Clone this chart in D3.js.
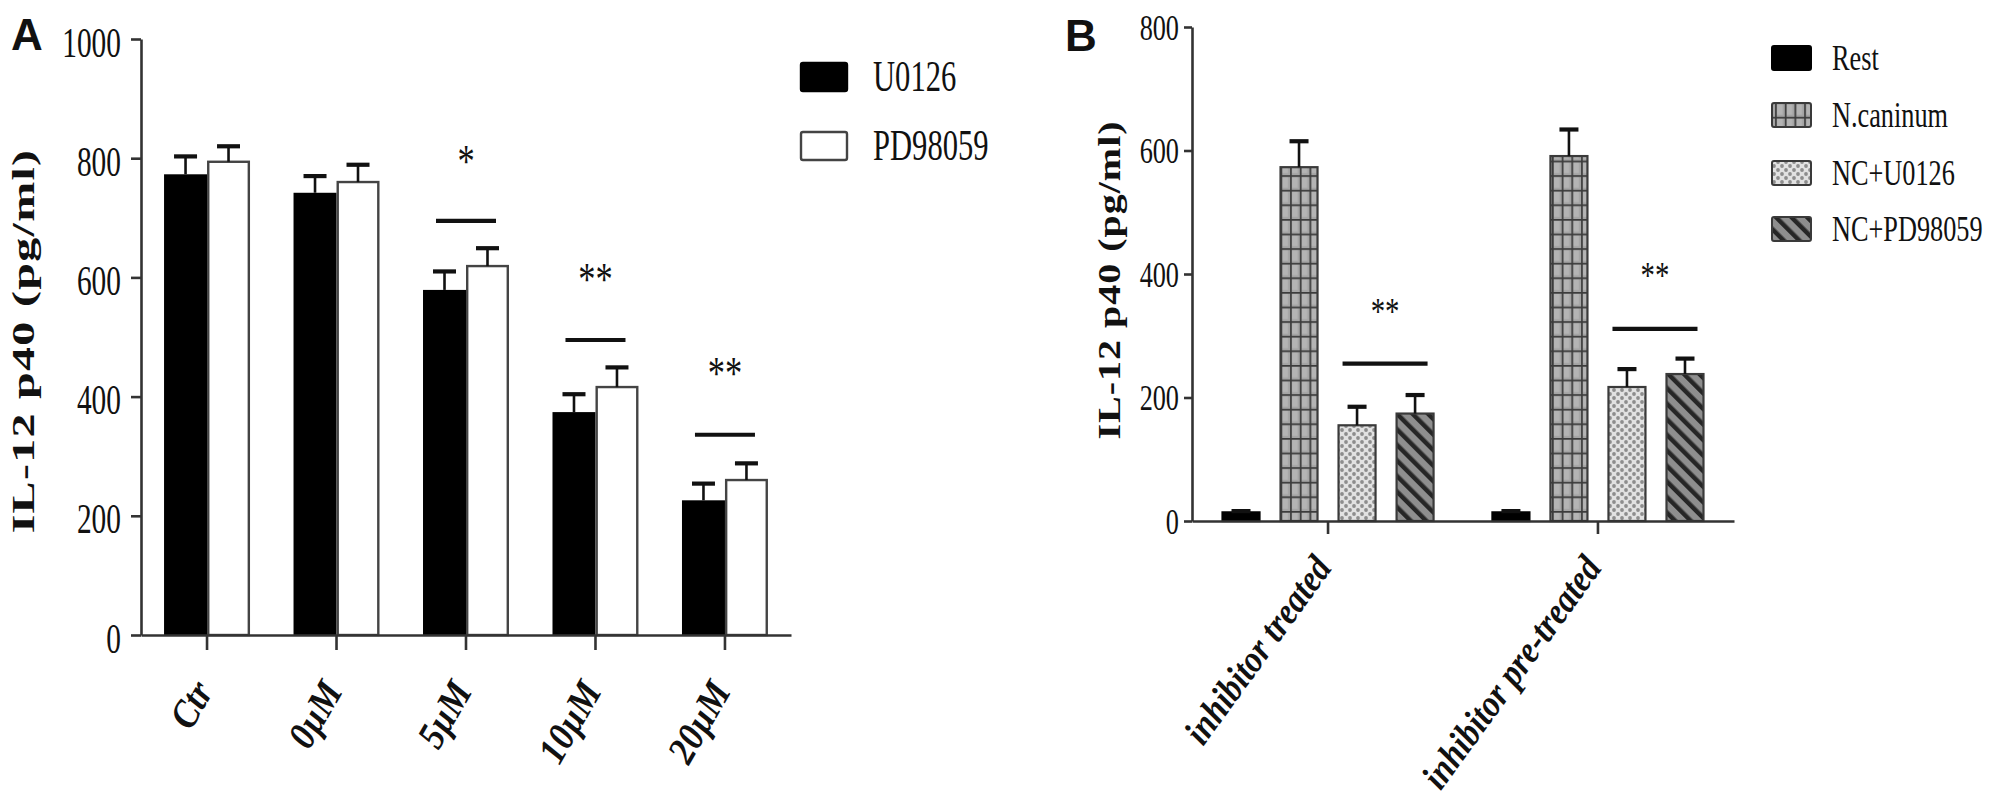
<!DOCTYPE html>
<html>
<head>
<meta charset="utf-8">
<script src="https://cdn.jsdelivr.net/npm/d3@7"></script>
<style>
  html, body { margin: 0; padding: 0; background: #fff; }
  svg { display: block; }
</style>
</head>
<body>
<svg id="chart" width="1992" height="811"></svg>
<script>
// ---------------- DATA ----------------
// Panel A
const catsA = ["Ctr", "0\u00B5M", "5\u00B5M", "10\u00B5M", "20\u00B5M"];
const seriesA = ["U0126", "PD98059"];
const u0126Vals = [773, 742, 579, 374, 226];
const u0126Err  = [30, 28, 31, 30, 28];
const pd98059Vals = [794, 760, 619, 416, 260];
const pd98059Err  = [26, 29, 30, 33, 28];
const ticksA = [0, 200, 400, 600, 800, 1000];
const sigCatsA = ["5\u00B5M", "10\u00B5M", "20\u00B5M"];
const sigLineA = [695, 495, 336];
const sigStarA = [805, 606, 448];
const sigTextA = ["*", "**", "**"];

// Panel B
const groupsB = ["inhibitor treated", "inhibitor pre-treated"];
const seriesB = ["Rest", "N.caninum", "NC+U0126", "NC+PD98059"];
const restVals = [14, 14];
const restErr  = [2, 2];
const ncanVals = [573, 591];
const ncanErr  = [42, 43];
const ncU0126Vals = [155, 217];
const ncU0126Err  = [30, 29];
const ncPDVals = [174, 238];
const ncPDErr  = [30, 25];
const ticksB = [0, 200, 400, 600, 800];
const sigLineB = [255, 311];
const sigStarB = [348, 406];
const sigTextB = ["**", "**"];

const yLabel = "IL-12 p40 (pg/ml)";

// ---------------- SETUP ----------------
const svg = d3.select("#chart");
const SERIF = "'Liberation Serif', 'Times New Roman', serif";
const SANS = "'Liberation Sans', Arial, sans-serif";
const AX = "#333";

svg.append("rect").attr("width", 1992).attr("height", 811).attr("fill", "#fff");

// patterns
const defs = svg.append("defs");
const pg = defs.append("pattern").attr("id", "pGrid")
  .attr("patternUnits", "userSpaceOnUse").attr("width", 9.7).attr("height", 14.6);
pg.append("rect").attr("width", 9.7).attr("height", 14.6).attr("fill", "#a4a4a4");
pg.append("rect").attr("x", 2).attr("y", 2).attr("width", 5.5).attr("height", 10.5).attr("fill", "#b4b4b4");
pg.append("line").attr("x1", 0.8).attr("x2", 0.8).attr("y1", 0).attr("y2", 14.6).attr("stroke", "#3c3c3c").attr("stroke-width", 1.8);
pg.append("line").attr("x1", 0).attr("x2", 9.7).attr("y1", 0.8).attr("y2", 0.8).attr("stroke", "#3c3c3c").attr("stroke-width", 1.8);

const pd = defs.append("pattern").attr("id", "pDots")
  .attr("patternUnits", "userSpaceOnUse").attr("width", 8).attr("height", 8);
pd.append("rect").attr("width", 8).attr("height", 8).attr("fill", "#e2e2e2");
pd.append("circle").attr("cx", 2).attr("cy", 2).attr("r", 1.9).attr("fill", "#8d8d8d");
pd.append("circle").attr("cx", 6).attr("cy", 6).attr("r", 1.9).attr("fill", "#8d8d8d");

const ps = defs.append("pattern").attr("id", "pStripe")
  .attr("patternUnits", "userSpaceOnUse").attr("width", 11).attr("height", 11)
  .attr("patternTransform", "rotate(-45)");
ps.append("rect").attr("width", 11).attr("height", 11).attr("fill", "#8e8e8e");
ps.append("rect").attr("x", 0).attr("width", 4.5).attr("height", 11).attr("fill", "#262626");

function styleText(sel, size, weight, style, family) {
  sel.attr("font-family", family || SERIF)
    .attr("font-size", size)
    .attr("font-weight", weight || "normal")
    .attr("font-style", style || "normal")
    .attr("fill", "#111");
}

function errorBars(g, xc, yTop, yErr, capW) {
  g.append("line").attr("x1", xc).attr("x2", xc).attr("y1", yTop).attr("y2", yErr)
    .attr("stroke", "#111").attr("stroke-width", 2.6);
  g.append("line").attr("x1", xc - capW / 2).attr("x2", xc + capW / 2).attr("y1", yErr).attr("y2", yErr)
    .attr("stroke", "#111").attr("stroke-width", 4.2);
}

// ---------------- PANEL A ----------------
(function () {
  const y = d3.scaleLinear().domain([0, 1000]).range([635, 39]);
  const x0 = d3.scaleBand().domain(catsA).range([141, 791]).paddingInner(0).paddingOuter(0.01);
  const x1 = d3.scaleBand().domain(seriesA).range([0, x0.bandwidth()]).paddingInner(0).paddingOuter(0.506);
  const vals = { "U0126": u0126Vals, "PD98059": pd98059Vals };
  const errs = { "U0126": u0126Err, "PD98059": pd98059Err };
  const g = svg.append("g");

  seriesA.forEach(s => {
    catsA.forEach((c, i) => {
      const bx = x0(c) + x1(s);
      const v = vals[s][i];
      const bg = g.append("g");
      if (s === "U0126") {
        bg.append("rect").attr("x", bx).attr("y", y(v)).attr("width", x1.bandwidth()).attr("height", y(0) - y(v))
          .attr("fill", "#000");
      } else {
        bg.append("rect").attr("x", bx + 1.2).attr("y", y(v)).attr("width", x1.bandwidth() - 2.4).attr("height", y(0) - y(v))
          .attr("fill", "#fff").attr("stroke", "#444").attr("stroke-width", 2.4);
      }
      errorBars(bg, bx + x1.bandwidth() / 2, y(v), y(v + errs[s][i]), 23);
    });
  });

  const yAxis = d3.axisLeft(y).tickValues(ticksA).tickSize(10).tickSizeOuter(0).tickFormat(d3.format("d"));
  const ya = g.append("g").attr("transform", "translate(141,0)").call(yAxis);
  ya.select(".domain").attr("stroke", AX).attr("stroke-width", 2.6);
  ya.selectAll(".tick line").attr("stroke", AX).attr("stroke-width", 2.6);
  ya.selectAll(".tick text").attr("x", null).attr("dy", null).attr("y", null)
    .attr("text-anchor", "end").attr("transform", "translate(-20,17) scale(0.7,1)")
    .call(styleText, 42);

  const xAxis = d3.axisBottom(x0).tickSize(15).tickSizeOuter(0);
  const xa = g.append("g").attr("transform", "translate(0,635)").call(xAxis);
  xa.select(".domain").attr("stroke", AX).attr("stroke-width", 2.6);
  xa.selectAll(".tick line").attr("stroke", AX).attr("stroke-width", 2.6);
  xa.selectAll(".tick text").attr("x", null).attr("dy", null).attr("y", null)
    .attr("text-anchor", "end").attr("transform", "translate(7,56) rotate(-60) scale(0.9,1)")
    .call(styleText, 39, "bold", "italic");

  g.append("text").text(yLabel)
    .attr("text-anchor", "middle").attr("letter-spacing", 1.3)
    .attr("transform", "translate(34,341) scale(0.66,1) rotate(-90)")
    .call(styleText, 48, "bold");

  sigCatsA.forEach((c, i) => {
    const cx = x0(c) + x0.bandwidth() / 2;
    g.append("line").attr("x1", cx - 30).attr("x2", cx + 30)
      .attr("y1", y(sigLineA[i])).attr("y2", y(sigLineA[i]))
      .attr("stroke", "#111").attr("stroke-width", 4.2);
    g.append("text").text(sigTextA[i]).attr("text-anchor", "middle")
      .attr("transform", `translate(${cx},${y(sigStarA[i]) + 21.5}) scale(0.75,1)`)
      .call(styleText, 46);
  });

  const lg = g.append("g");
  seriesA.forEach((s, i) => {
    const ly = [63, 132][i];
    lg.append("rect").attr("x", 801).attr("y", ly).attr("width", 46).attr("height", 28).attr("rx", 2)
      .attr("fill", s === "U0126" ? "#000" : "#fff").attr("stroke", s === "U0126" ? "#000" : "#444").attr("stroke-width", 2.4);
    lg.append("text").text(s).attr("transform", `translate(873,${ly + 28}) scale(0.68,1)`)
      .call(styleText, 45);
  });

  g.append("text").text("A").attr("x", 11).attr("y", 50).call(styleText, 44, "bold", "normal", SANS);
})();

// ---------------- PANEL B ----------------
(function () {
  const y = d3.scaleLinear().domain([0, 800]).range([521, 27]);
  const x0 = d3.scaleBand().domain(groupsB).range([1192, 1734]).paddingInner(0).paddingOuter(0.004);
  const x1 = d3.scaleBand().domain(seriesB).range([0, x0.bandwidth()]).paddingInner(0.328).paddingOuter(0.49);
  const vals = { "Rest": restVals, "N.caninum": ncanVals, "NC+U0126": ncU0126Vals, "NC+PD98059": ncPDVals };
  const errs = { "Rest": restErr, "N.caninum": ncanErr, "NC+U0126": ncU0126Err, "NC+PD98059": ncPDErr };
  const fills = { "Rest": "#000", "N.caninum": "url(#pGrid)", "NC+U0126": "url(#pDots)", "NC+PD98059": "url(#pStripe)" };
  const g = svg.append("g");

  groupsB.forEach((grp, i) => {
    seriesB.forEach(s => {
      const bx = x0(grp) + x1(s);
      const v = vals[s][i];
      const bg = g.append("g");
      bg.append("rect").attr("x", bx + 1).attr("y", y(v)).attr("width", x1.bandwidth() - 2).attr("height", y(0) - y(v))
        .attr("fill", fills[s]).attr("stroke", s === "Rest" ? "#000" : "#3a3a3a").attr("stroke-width", 2.2);
      errorBars(bg, bx + x1.bandwidth() / 2, y(v), y(v + errs[s][i]), 19);
    });
  });

  const yAxis = d3.axisLeft(y).tickValues(ticksB).tickSize(8).tickSizeOuter(0).tickFormat(d3.format("d"));
  const ya = g.append("g").attr("transform", "translate(1192,0)").call(yAxis);
  ya.select(".domain").attr("stroke", AX).attr("stroke-width", 2.6);
  ya.selectAll(".tick line").attr("stroke", AX).attr("stroke-width", 2.6);
  ya.selectAll(".tick text").attr("x", null).attr("dy", null).attr("y", null)
    .attr("text-anchor", "end").attr("transform", "translate(-13,12) scale(0.75,1)")
    .call(styleText, 35);

  const xAxis = d3.axisBottom(x0).tickSize(13).tickSizeOuter(0);
  const xa = g.append("g").attr("transform", "translate(0,521)").call(xAxis);
  xa.select(".domain").attr("stroke", AX).attr("stroke-width", 2.6);
  xa.selectAll(".tick line").attr("stroke", AX).attr("stroke-width", 2.6);
  xa.selectAll(".tick text").attr("x", null).attr("dy", null).attr("y", null)
    .attr("text-anchor", "end").attr("transform", "translate(5,47) rotate(-54) scale(0.87,1)")
    .call(styleText, 38, "bold", "italic");

  g.append("text").text(yLabel)
    .attr("text-anchor", "middle").attr("letter-spacing", 1)
    .attr("transform", "translate(1120,280) scale(0.8,1) rotate(-90)")
    .call(styleText, 40, "bold");

  groupsB.forEach((grp, i) => {
    const xl = x0(grp) + x1("NC+U0126") + 5;
    const xr = x0(grp) + x1("NC+PD98059") + x1.bandwidth() - 7;
    g.append("line").attr("x1", xl).attr("x2", xr)
      .attr("y1", y(sigLineB[i])).attr("y2", y(sigLineB[i]))
      .attr("stroke", "#111").attr("stroke-width", 4.2);
    g.append("text").text(sigTextB[i]).attr("text-anchor", "middle")
      .attr("transform", `translate(${(xl + xr) / 2},${y(sigStarB[i]) + 18}) scale(0.76,1)`)
      .call(styleText, 38);
  });

  const lg = g.append("g");
  seriesB.forEach((s, i) => {
    const ly = [46, 103, 161, 217][i];
    lg.append("rect").attr("x", 1772).attr("y", ly).attr("width", 39).attr("height", 24).attr("rx", 2)
      .attr("fill", fills[s]).attr("stroke", s === "Rest" ? "#000" : "#3a3a3a").attr("stroke-width", 2);
    lg.append("text").text(s).attr("transform", `translate(1832,${ly + 24}) scale(0.73,1)`)
      .call(styleText, 36);
  });

  g.append("text").text("B").attr("x", 1065).attr("y", 51).call(styleText, 44, "bold", "normal", SANS);
})();
</script>
</body>
</html>
